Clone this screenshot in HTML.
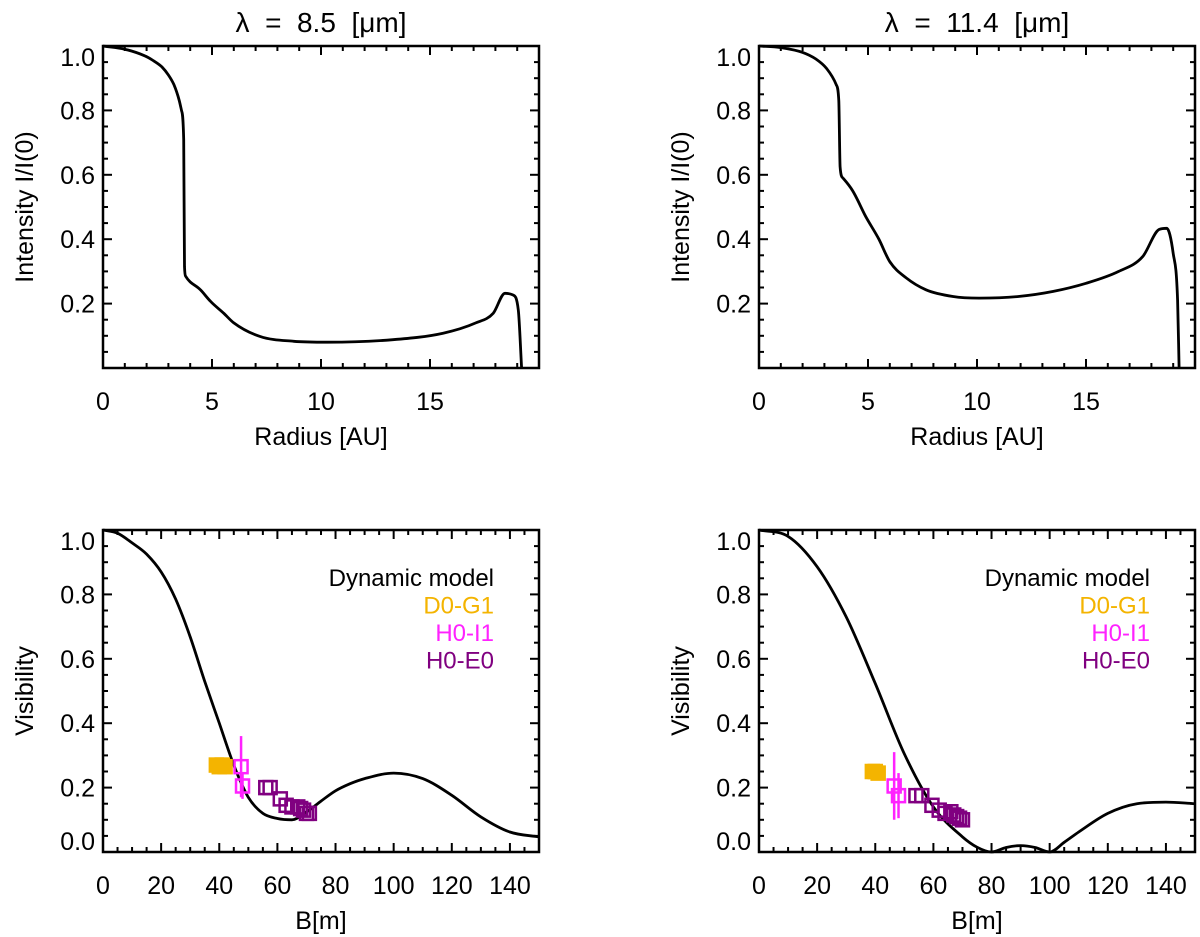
<!DOCTYPE html>
<html><head><meta charset="utf-8"><style>
body{margin:0;background:#fff;}
svg{display:block;font-family:"Liberation Sans",sans-serif;}
</style></head><body>
<svg id="fig" width="1200" height="937" viewBox="0 0 1200 937"></svg>
<script>
// ---- data ----
const int85R = [0,1.0,1.9,2.3,2.7,3.0,3.25,3.5,3.6,3.7,3.74,3.79,4.47,4.93,5.54,6.0,7.2,8.75,10.3,13.3,15.6,17.1,17.9,18.44,18.8,19.05,19.2];
const int85I = [1.0,0.99,0.97,0.955,0.935,0.91,0.88,0.83,0.80,0.71,0.315,0.285,0.243,0.207,0.17,0.14,0.098,0.083,0.08,0.088,0.108,0.14,0.17,0.232,0.227,0.18,0.0];
const int114R = [0,1.0,2.0,2.6,3.1,3.54,3.66,3.72,3.85,4.3,4.9,5.5,6.0,6.75,7.66,8.9,10.1,11.9,13.5,15,16.5,17.6,18.35,18.7,19.0,19.2,19.27];
const int114I = [1.0,0.995,0.98,0.96,0.93,0.88,0.83,0.625,0.59,0.55,0.47,0.40,0.33,0.28,0.243,0.222,0.217,0.222,0.238,0.263,0.30,0.346,0.43,0.434,0.356,0.21,0.0];
const vis85B = [0,5,10,15,20,25,30,35,40,45,50,55,60,65,70,75,80,85,90,100,110,120,130,140,150];
const vis85V = [1.0,0.99,0.96,0.925,0.87,0.785,0.668,0.53,0.40,0.27,0.17,0.12,0.104,0.10,0.124,0.158,0.19,0.212,0.228,0.245,0.228,0.176,0.109,0.062,0.047];
const vis114B = [0,10,20,30,40,50,60,70,75,80,85,90,95,100,105,110,120,130,140,150];
const vis114V = [1.0,0.98,0.886,0.73,0.523,0.305,0.14,0.047,0.015,0.0,0.014,0.02,0.014,0.0,0.03,0.062,0.12,0.15,0.155,0.15];
const d0g1_85B = [39,40,41,42]; const d0g1_85V = [0.27,0.265,0.27,0.265]; const d0g1_85E=[0.015,0.015,0.015,0.015];
const h0i1_85B = [47.5,48]; const h0i1_85V = [0.265,0.205]; const h0i1_85E = [0.095,0.04];
const h0e0_85B = [56,57.5,61,63,65,67,68,69,70,71]; const h0e0_85V = [0.20,0.20,0.165,0.145,0.14,0.14,0.135,0.13,0.12,0.12];
const d0g1_114B = [39,40,41]; const d0g1_114V = [0.25,0.25,0.245]; const d0g1_114E=[0.01,0.01,0.01];
const h0i1_114B = [46.5,48]; const h0i1_114V = [0.205,0.175]; const h0i1_114E = [0.105,0.07];
const h0e0_114B = [54,56,59.5,62,64,66,67,68,69,70]; const h0e0_114V = [0.175,0.175,0.145,0.13,0.12,0.125,0.115,0.11,0.105,0.10];
const topTickVals=[0,5,10,15];
const botTickVals=[0,20,40,60,80,100,120,140];
const yTickVals=[0.2,0.4,0.6,0.8,1.0]; const yTickValsB=[0.0,0.2,0.4,0.6,0.8,1.0];

const svg=document.getElementById('fig');
const NS='http://www.w3.org/2000/svg';
function mk(tag,attrs,parent){const e=document.createElementNS(NS,tag);for(const k in attrs)e.setAttribute(k,attrs[k]);(parent||svg).appendChild(e);return e;}

function monoPath(P){
  const n=P.length;const d=[],m=[];
  for(let i=0;i<n-1;i++){const dx=P[i+1][0]-P[i][0];d.push(dx?(P[i+1][1]-P[i][1])/dx:0);}
  m[0]=d[0];m[n-1]=d[n-2];
  for(let i=1;i<n-1;i++){m[i]=(d[i-1]*d[i]<=0)?0:(d[i-1]+d[i])/2;}
  for(let i=0;i<n-1;i++){if(d[i]===0){m[i]=0;m[i+1]=0;continue;}const a=m[i]/d[i],b=m[i+1]/d[i];const s=a*a+b*b;if(s>9){const t=3/Math.sqrt(s);m[i]=t*a*d[i];m[i+1]=t*b*d[i];}}
  let s=`M${P[0][0].toFixed(1)},${P[0][1].toFixed(1)}`;
  for(let i=0;i<n-1;i++){const h=(P[i+1][0]-P[i][0])/3;
    s+=` C${(P[i][0]+h).toFixed(1)},${(P[i][1]+m[i]*h).toFixed(1)} ${(P[i+1][0]-h).toFixed(1)},${(P[i+1][1]-m[i+1]*h).toFixed(1)} ${P[i+1][0].toFixed(1)},${P[i+1][1].toFixed(1)}`;}
  return s;
}

function panel(o){
  const g=mk('g',{});
  
  
  const sx=v=>o.x0+(v-o.xmin)/(o.xmax-o.xmin)*(o.x1-o.x0);
  const sy=v=>o.y1-(v-o.ymin)/(o.ymax-o.ymin)*(o.y1-o.y0);
  for(let v=o.xmin;v<=o.xmax+1e-9;v+=o.xminor){
    const major=Math.abs(v/o.xmajor-Math.round(v/o.xmajor))<1e-6;const L=major?9:5;
    mk('line',{x1:sx(v),x2:sx(v),y1:o.y1,y2:o.y1-L,stroke:'#000','stroke-width':2},g);
    mk('line',{x1:sx(v),x2:sx(v),y1:o.y0,y2:o.y0+L,stroke:'#000','stroke-width':2},g);
  }
  for(let v=o.ymin;v<=o.ymax+1e-9;v+=0.05){
    const major=Math.abs(v/0.2-Math.round(v/0.2))<1e-6;const L=major?9:5;
    mk('line',{x1:o.x0,x2:o.x0+L,y1:sy(v),y2:sy(v),stroke:'#000','stroke-width':2},g);
    mk('line',{x1:o.x1,x2:o.x1-L,y1:sy(v),y2:sy(v),stroke:'#000','stroke-width':2},g);
  }
  const fr=mk('rect',{x:o.x0,y:o.y0,width:o.x1-o.x0,height:o.y1-o.y0,fill:'none',stroke:'#000','stroke-width':2.5},g);
  
  
  o.xt.forEach(v=>{const t=mk('text',{x:sx(v),y:o.y1+42,'font-size':25,'text-anchor':'middle',fill:'#000'},g);t.textContent=String(v);
    
    });
  o.yt.forEach(v=>{let yy=sy(v)+9;if(v>=1)yy+=11;if(v<=0)yy-=11;const t=mk('text',{x:o.x0-8,y:yy,'font-size':25,'text-anchor':'end',fill:'#000'},g);t.textContent=v.toFixed(1);
    
    });
  const xt=mk('text',{x:(o.x0+o.x1)/2,y:o.y1+77,'font-size':25,'text-anchor':'middle',fill:'#000'},g);xt.textContent=o.xlabel;
  
  
  const cy=(o.y0+o.y1)/2;
  const yt=mk('text',{x:o.x0-78,y:cy,'font-size':25,'text-anchor':'middle',fill:'#000',transform:`rotate(-90 ${o.x0-78} ${cy})`},g);yt.textContent=o.ylabel;yt.setAttribute('dy','8');
  
  
  if(o.title){const t=mk('text',{x:(o.x0+o.x1)/2,y:32,'font-size':28,'text-anchor':'middle',fill:'#000'},g);t.textContent=o.title;t.setAttribute('style','white-space:pre');
    
    }
  const P=o.cx.map((v,i)=>[sx(v),sy(o.cy[i])]);
  const pl=mk('path',{d:monoPath(P),fill:'none',stroke:'#000','stroke-width':2.8,'stroke-linejoin':'round'},g);
  
  
  (o.series||[]).forEach(s=>{
    s.b.forEach((b,i)=>{
      const X=sx(b),Y=sy(s.v[i]);
      const e=(s.e&&s.e[i])||0;
      if(e>0){const el=mk('line',{x1:X,x2:X,y1:sy(s.v[i]+e),y2:sy(s.v[i]-e),stroke:s.c,'stroke-width':2.5},g);
        
        }
      const r=mk('rect',{x:X-6.5,y:Y-6.5,width:13,height:13,fill:s.fill?s.c:'none',stroke:s.c,'stroke-width':2.5},g);
      
      
    });
  });
  if(o.legend){
    const lx=o.x0+391;
    [['Dynamic model','#000'],['D0-G1','#f4b400'],['H0-I1','#ff22ff'],['H0-E0','#800080']].forEach((l,i)=>{
      const t=mk('text',{x:lx,y:586+i*27.5,'font-size':24,'text-anchor':'end',fill:l[1]},g);t.textContent=l[0];
      
      
    });
  }
}
const L=[103,539],R=[759,1195],T=[46,368],B=[530,852];
panel({name:'intensity-8.5',x0:L[0],x1:L[1],y0:T[0],y1:T[1],xmin:0,xmax:20,ymin:0,ymax:1,xminor:1,xmajor:5,xt:topTickVals,yt:yTickVals,xlabel:'Radius [AU]',ylabel:'Intensity I/I(0)',title:'λ  =  8.5  [μm]',cx:int85R,cy:int85I});
panel({name:'intensity-11.4',x0:R[0],x1:R[1],y0:T[0],y1:T[1],xmin:0,xmax:20,ymin:0,ymax:1,xminor:1,xmajor:5,xt:topTickVals,yt:yTickVals,xlabel:'Radius [AU]',ylabel:'Intensity I/I(0)',title:'λ  =  11.4  [μm]',cx:int114R,cy:int114I});
panel({name:'visibility-8.5',x0:L[0],x1:L[1],y0:B[0],y1:B[1],xmin:0,xmax:150,ymin:0,ymax:1,xminor:5,xmajor:20,xt:botTickVals,yt:yTickValsB,xlabel:'B[m]',ylabel:'Visibility',cx:vis85B,cy:vis85V,legend:true,
  series:[{name:'d0-g1',b:d0g1_85B,v:d0g1_85V,e:d0g1_85E,c:'#f4b400',fill:true},{name:'h0-i1',b:h0i1_85B,v:h0i1_85V,e:h0i1_85E,c:'#ff22ff'},{name:'h0-e0',b:h0e0_85B,v:h0e0_85V,c:'#800080'}]});
panel({name:'visibility-11.4',x0:R[0],x1:R[1],y0:B[0],y1:B[1],xmin:0,xmax:150,ymin:0,ymax:1,xminor:5,xmajor:20,xt:botTickVals,yt:yTickValsB,xlabel:'B[m]',ylabel:'Visibility',cx:vis114B,cy:vis114V,legend:true,
  series:[{name:'d0-g1',b:d0g1_114B,v:d0g1_114V,e:d0g1_114E,c:'#f4b400',fill:true},{name:'h0-i1',b:h0i1_114B,v:h0i1_114V,e:h0i1_114E,c:'#ff22ff'},{name:'h0-e0',b:h0e0_114B,v:h0e0_114V,c:'#800080'}]});
</script>
</body></html>
